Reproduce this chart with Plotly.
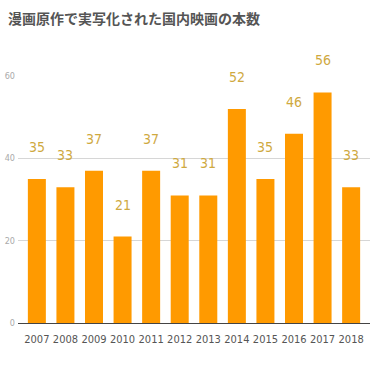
import plotly.graph_objects as go

years = ["2007", "2008", "2009", "2010", "2011", "2012", "2013", "2014", "2015", "2016", "2017", "2018"]
counts = [35, 33, 37, 21, 37, 31, 31, 52, 35, 46, 56, 33]
y_ticks = [0, 20, 40, 60]
title = "漫画原作で実写化された国内映画の本数"

NARROW = "DejaVu Sans Condensed, Liberation Sans Narrow, sans-serif"

fig = go.Figure()
fig.add_trace(go.Bar(
    x=list(range(len(years))), y=counts,
    marker=dict(color="#FF9A00", line=dict(width=0)),
    width=0.63,
    hoverinfo="skip",
))

for i, v in enumerate(counts):
    fig.add_annotation(
        x=i, y=v, text=str(v), showarrow=False,
        yanchor="bottom", yshift=22,
        font=dict(family=NARROW, size=14, color="#CFA93F"),
    )

fig.add_annotation(
    xref="paper", yref="paper", x=-0.035, y=1.0, yshift=70,
    xanchor="left", yanchor="top", showarrow=False,
    text="<b>" + title + "</b>",
    font=dict(family="Noto Sans CJK JP", size=14, color="#555555"),
)

fig.update_layout(
    width=375, height=375,
    margin=dict(l=16, r=5, t=76, b=52),
    paper_bgcolor="white", plot_bgcolor="white",
    showlegend=False,
    bargap=0.37,
    xaxis=dict(
        range=[-0.66, 11.66],
        tickmode="array", tickvals=list(range(len(years))), ticktext=years,
        showgrid=False, zeroline=False,
        showline=False, ticks="", tickangle=0,
        tickfont=dict(family=NARROW, size=11, color="#555555"),
        ticklabelstandoff=8,
        fixedrange=True,
    ),
    yaxis=dict(
        range=[0, 60],
        tickvals=y_ticks,
        showgrid=True, gridcolor="#D6D6D6", gridwidth=1,
        zeroline=True, zerolinecolor="#444444", zerolinewidth=1,
        showline=False, ticks="",
        tickfont=dict(family=NARROW, size=9, color="#AAAAAA"),
        ticklabelstandoff=2,
        fixedrange=True,
    ),
)

fig.write_html("out.html")
